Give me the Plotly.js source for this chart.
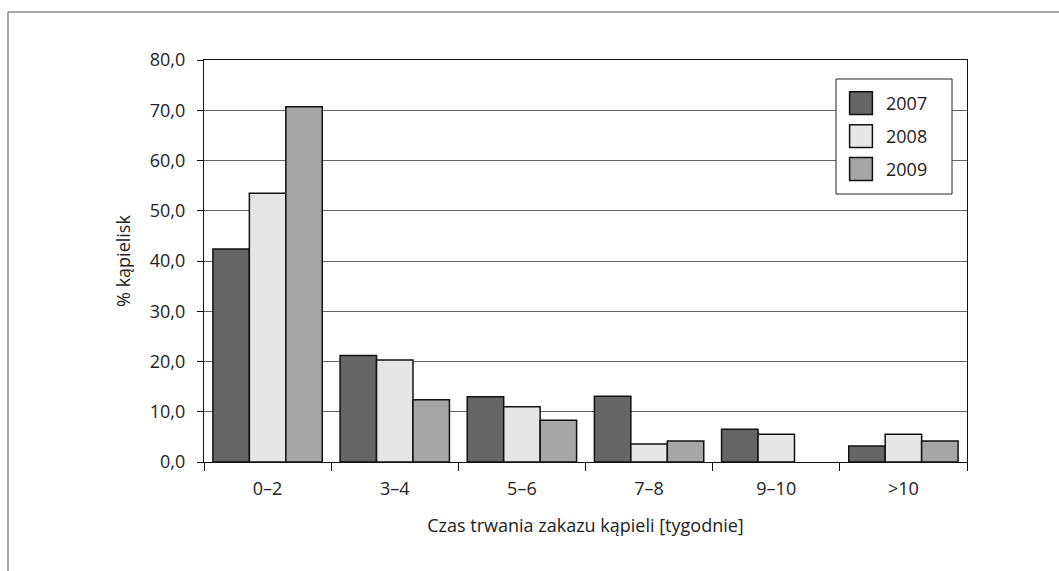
<!DOCTYPE html>
<html>
<head>
<meta charset="utf-8">
<script src="https://cdn.plot.ly/plotly-3.0.1.min.js"></script>
<style>
html,body{margin:0;padding:0;background:#fff;}
#chart{width:1059px;height:571px;}
.legend .legendpoints path{transform:translate(25px,0px) scale(1.9) !important;vector-effect:non-scaling-stroke;}
</style>
</head>
<body>
<div id="chart"></div>
<script>
const categories = ["0–2", "3–4", "5–6", "7–8", "9–10", ">10"];
const seriesNames = ["2007", "2008", "2009"];
const values2007 = [42.4, 21.2, 13.0, 13.1, 6.5, 3.2];
const values2008 = [53.5, 20.3, 11.0, 3.6, 5.5, 5.5];
const values2009 = [70.7, 12.4, 8.3, 4.2, 0.0, 4.2];
const yTickValues = [0, 10, 20, 30, 40, 50, 60, 70, 80];

const colors = ["#666666", "#e6e6e6", "#a6a6a6"];
const allValues = [values2007, values2008, values2009];
const FONT = "Open Sans, Noto Sans, sans-serif";

const traces = allValues.map((v, i) => ({
  type: "bar",
  name: seriesNames[i],
  x: categories,
  y: v,
  legendgroup: seriesNames[i],
  marker: {color: colors[i], line: {color: "#111111", width: v.map(val => val === 0 ? 0 : 1.5)}},
  hoverinfo: "x+y+name"
}));

const L = 204, R = 967, T = 60, B = 462, W = 1059, H = 571;
const pw = R - L, ph = B - T;
const px = v => (v - L) / pw;
const py = v => (B - v) / ph;

const layout = {
  width: W, height: H,
  margin: {l: L, r: W - R, t: T, b: H - B, pad: 0},
  paper_bgcolor: "#ffffff",
  plot_bgcolor: "#ffffff",
  font: {family: FONT, size: 18, color: "#222222"},
  barmode: "group",
  bargap: 0.14,
  bargroupgap: 0,
  showlegend: true,
  legend: {
    x: px(836), y: py(85), xanchor: "left", yanchor: "top",
    bgcolor: "rgba(0,0,0,0)", borderwidth: 0,
    font: {family: FONT, size: 18, color: "#222222"},
    itemwidth: 40,
    traceorder: "grouped",
    tracegroupgap: 6.5
  },
  xaxis: {
    type: "category",
    showline: true, linecolor: "#111111", linewidth: 1.2, mirror: true,
    ticks: "outside", tickson: "boundaries", ticklen: 8, tickcolor: "#111111", tickwidth: 1,
    ticklabelstandoff: 10,
    showgrid: false,
    tickfont: {family: FONT, size: 18, color: "#222222"},
    title: {text: "Czas trwania zakazu kąpieli [tygodnie]", font: {family: FONT, size: 18, color: "#222222"}, standoff: 20},
    fixedrange: true
  },
  yaxis: {
    range: [0, 80],
    tickvals: yTickValues,
    tickformat: ".1f",
    showline: true, linecolor: "#111111", linewidth: 1.2, mirror: true,
    ticks: "outside", ticklen: 6, tickcolor: "#111111", tickwidth: 1,
    ticklabelstandoff: 8,
    showgrid: true, gridcolor: "#666666", gridwidth: 1,
    zeroline: false,
    tickfont: {family: FONT, size: 18, color: "#222222"},
    title: {text: "% kąpielisk", font: {family: FONT, size: 18, color: "#222222"}, standoff: 14},
    fixedrange: true
  },
  separators: ",.",
  shapes: [
    {type: "line", xref: "paper", yref: "paper", x0: px(8), x1: px(W + 2), y0: py(12), y1: py(12),
     line: {color: "#888888", width: 1.5}},
    {type: "line", xref: "paper", yref: "paper", x0: px(8), x1: px(8), y0: py(12), y1: py(H + 2),
     line: {color: "#888888", width: 1.5}},
    {type: "rect", xref: "paper", yref: "paper", layer: "above",
     x0: px(836), x1: px(952), y0: py(79), y1: py(194),
     fillcolor: "#ffffff", line: {color: "#222222", width: 1}}
  ]
};

Plotly.newPlot("chart", traces, layout, {displayModeBar: false, staticPlot: true});
</script>
</body>
</html>
